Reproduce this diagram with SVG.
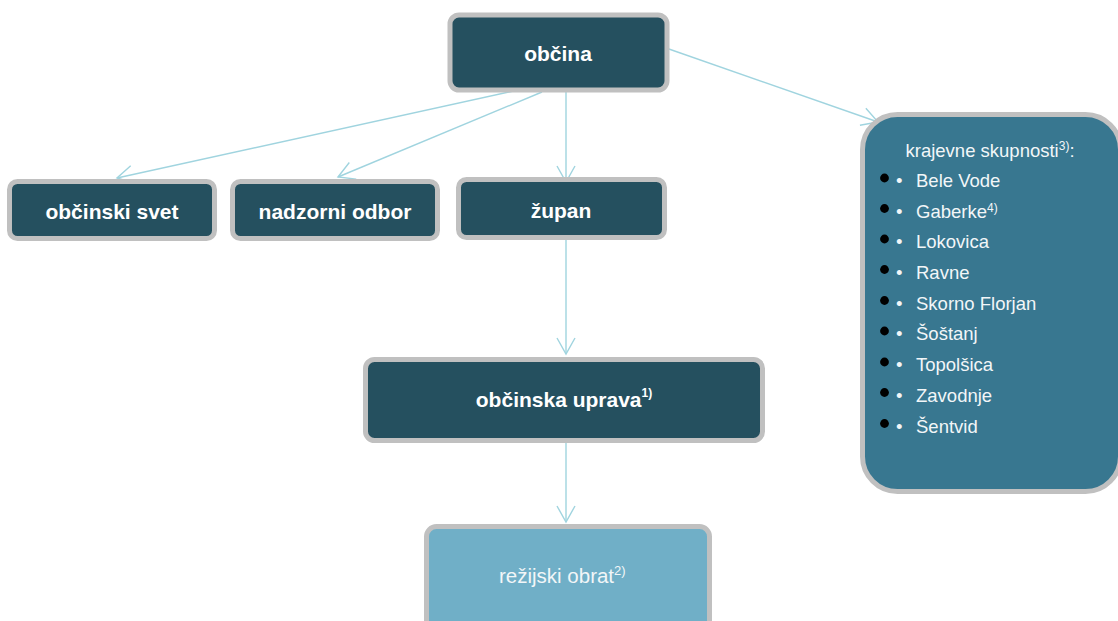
<svg xmlns="http://www.w3.org/2000/svg" width="1118" height="621" viewBox="0 0 1118 621">
  <defs>
    <style>
      .box { fill: #25505F; stroke: #C0C0C0; stroke-width: 5; }
      .lbl { font-family: "Liberation Sans", Arial, sans-serif; font-weight: bold; font-size: 21px; fill: #FFFFFF; text-anchor: middle; }
      .reg { font-family: "Liberation Sans", Arial, sans-serif; font-size: 18.5px; fill: #F2F6F8; }
      .sup { font-size: 12px; }
      .conn { stroke: #A0D4DF; stroke-width: 1.4; fill: none; marker-end: url(#arr); }
    </style>
    <marker id="arr" markerUnits="userSpaceOnUse" viewBox="-18 -11 20 22" refX="0" refY="0" markerWidth="20" markerHeight="22" orient="auto">
      <path d="M-16,-9 L0,0 L-16,9" fill="none" stroke="#A0D4DF" stroke-width="1.4"/>
    </marker>
  </defs>
  <rect width="1118" height="621" fill="#FFFFFF"/>

  <g id="connectors">
    <line class="conn" x1="666" y1="48" x2="878" y2="122"/>
    <line class="conn" x1="518" y1="90" x2="117" y2="178"/>
    <line class="conn" x1="542" y1="92" x2="338" y2="177"/>
    <line class="conn" x1="566" y1="89" x2="566" y2="182"/>
    <line class="conn" x1="566" y1="240" x2="566" y2="354"/>
    <line class="conn" x1="566" y1="443" x2="566" y2="522"/>
  </g>

  <g id="obcina">
    <rect class="box" x="450" y="15" width="217" height="75" rx="9"/>
    <text class="lbl" x="558" y="61">občina</text>
  </g>

  <g id="obcinski-svet">
    <rect class="box" x="9.5" y="181.5" width="205" height="57" rx="8"/>
    <text class="lbl" x="112" y="218.5">občinski svet</text>
  </g>

  <g id="nadzorni-odbor">
    <rect class="box" x="232.5" y="181.5" width="205" height="57" rx="8"/>
    <text class="lbl" x="335" y="218.5">nadzorni odbor</text>
  </g>

  <g id="zupan">
    <rect class="box" x="458.5" y="179.5" width="206" height="58" rx="8"/>
    <text class="lbl" x="561" y="218">župan</text>
  </g>

  <g id="obcinska-uprava">
    <rect class="box" x="365.5" y="359.5" width="397" height="81" rx="9"/>
    <text class="lbl" x="564" y="407">občinska uprava<tspan class="sup" dy="-10">1)</tspan></text>
  </g>

  <g id="rezijski-obrat">
    <rect x="426.5" y="526.5" width="283" height="110" rx="10" fill="#70AFC7" stroke="#C0C0C0" stroke-width="5"/>
    <text class="reg" x="499" y="583" font-size="20.5px" style="font-size:20.5px">režijski obrat<tspan class="sup" dy="-8" style="font-size:13px">2)</tspan></text>
  </g>

  <g id="krajevne-skupnosti">
    <rect x="862.5" y="114.5" width="258" height="377" rx="35" fill="#387790" stroke="#C0C0C0" stroke-width="5"/>
    <text class="reg" x="905.5" y="157">krajevne skupnosti<tspan class="sup" dy="-7">3)</tspan><tspan dy="7">:</tspan></text>
    <g fill="#000000">
      <circle cx="884.5" cy="178" r="4.4"/>
      <circle cx="884.5" cy="208.5" r="4.4"/>
      <circle cx="884.5" cy="239" r="4.4"/>
      <circle cx="884.5" cy="269.5" r="4.4"/>
      <circle cx="884.5" cy="300.5" r="4.4"/>
      <circle cx="884.5" cy="331" r="4.4"/>
      <circle cx="884.5" cy="362" r="4.4"/>
      <circle cx="884.5" cy="392.5" r="4.4"/>
      <circle cx="884.5" cy="423.5" r="4.4"/>
    </g>
    <g class="reg">
      <text x="896" y="187">•</text>
      <text x="896" y="217.5">•</text>
      <text x="896" y="248">•</text>
      <text x="896" y="278.5">•</text>
      <text x="896" y="309.5">•</text>
      <text x="896" y="340">•</text>
      <text x="896" y="371">•</text>
      <text x="896" y="401.5">•</text>
      <text x="896" y="432.5">•</text>
    </g>
    <g class="reg">
      <text x="916" y="187">Bele Vode</text>
      <text x="916" y="217.5">Gaberke<tspan class="sup" dy="-6">4)</tspan></text>
      <text x="916" y="248">Lokovica</text>
      <text x="916" y="278.5">Ravne</text>
      <text x="916" y="309.5">Skorno Florjan</text>
      <text x="916" y="340">Šoštanj</text>
      <text x="916" y="371">Topolšica</text>
      <text x="916" y="401.5">Zavodnje</text>
      <text x="916" y="432.5">Šentvid</text>
    </g>
  </g>
</svg>
